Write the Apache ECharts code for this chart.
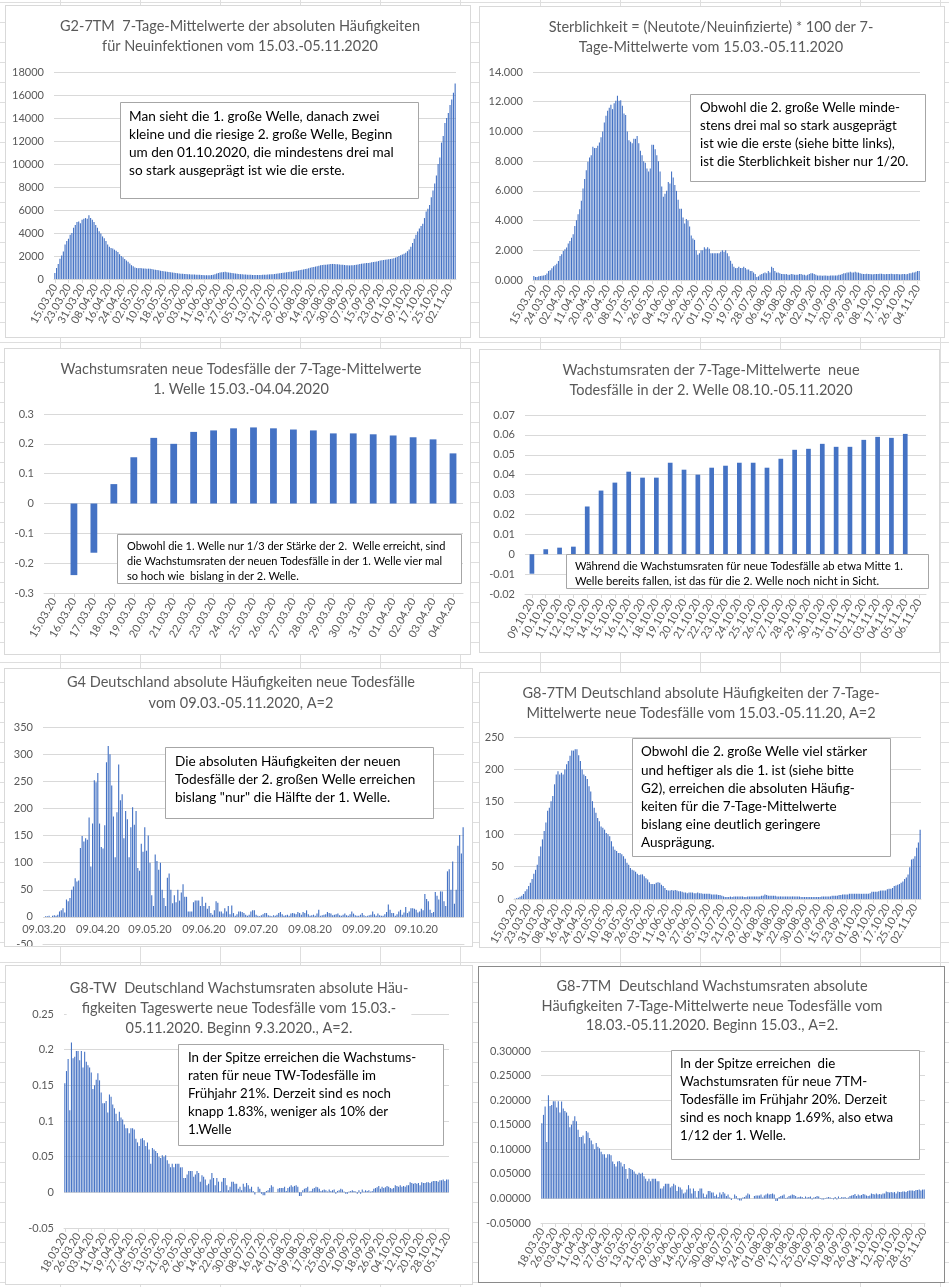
<!DOCTYPE html>
<html>
<head>
<meta charset="utf-8">
<script src="https://cdn.jsdelivr.net/npm/echarts@6/dist/echarts.min.js"></script>
<style>
html,body{margin:0;padding:0;width:949px;height:1287px;overflow:hidden;background:#fff;}
#bg{position:absolute;left:0;top:0;width:949px;height:1287px;
 background-image:linear-gradient(#dedede 1px,transparent 1px),linear-gradient(90deg,#dedede 1px,transparent 1px);
 background-size:100% 20px,80px 100%;background-position:0 2px,60px 0;}
.panel{position:absolute;background:#fff;border:1px solid #d9d9d9;box-sizing:border-box;}
</style>
</head>
<body>
<div id="bg"></div>
<div class="panel" id="p1" style="left:5px;top:5px;width:466px;height:333px;"></div>
<div class="panel" id="p2" style="left:479px;top:6px;width:466px;height:332px;"></div>
<div class="panel" id="p3" style="left:4px;top:348px;width:467px;height:307px;"></div>
<div class="panel" id="p4" style="left:479px;top:349px;width:461px;height:304px;"></div>
<div class="panel" id="p5" style="left:4px;top:668px;width:469px;height:279px;"></div>
<div class="panel" id="p6" style="left:479px;top:672px;width:462px;height:276px;"></div>
<div class="panel" id="p7" style="left:5px;top:965px;width:468px;height:320px;"></div>
<div class="panel" id="p8" style="left:478px;top:966px;width:467px;height:317px;border-color:#8a8a8a;"></div>
<script>
// ---------------- DATA ----------------
// G2-7TM: 7-day mean of new infections, 15.03.20 - 05.11.20 (236 days)
const infections7TM = [
  520, 960, 1300, 1770, 2050, 2400, 3000, 3300,
  3500, 3850, 4000, 4450, 4700, 4950, 5000, 4850,
  5150, 5250, 5300, 5250, 5550, 5300, 5150, 4950,
  4700, 4450, 4150, 3950, 3700, 3550, 3300, 3000,
  2800, 2700, 2650, 2550, 2450, 2350, 2150, 2000,
  1900, 1750, 1600, 1500, 1350, 1200, 1100, 1000,
  950, 930, 950, 940, 920, 910, 900, 900,
  890, 860, 830, 800, 780, 760, 720, 700,
  680, 660, 640, 600, 580, 560, 550, 530,
  500, 480, 460, 450, 440, 430, 420, 410,
  400, 400, 390, 380, 370, 360, 350, 340,
  330, 330, 320, 330, 350, 380, 420, 480,
  520, 560, 580, 600, 620, 590, 560, 540,
  520, 500, 480, 460, 440, 420, 410, 400,
  390, 380, 370, 360, 350, 350, 340, 340,
  340, 350, 360, 370, 380, 390, 400, 410,
  420, 440, 460, 480, 500, 520, 540, 560,
  580, 600, 620, 640, 660, 690, 720, 750,
  780, 800, 830, 860, 900, 940, 980, 1020,
  1050, 1080, 1110, 1150, 1190, 1220, 1240, 1250,
  1260, 1280, 1300, 1310, 1300, 1290, 1280, 1260,
  1240, 1230, 1220, 1200, 1190, 1180, 1190, 1200,
  1220, 1240, 1270, 1300, 1330, 1350, 1370, 1390,
  1400, 1420, 1450, 1480, 1500, 1530, 1560, 1600,
  1630, 1650, 1680, 1700, 1720, 1740, 1770, 1800,
  1860, 1920, 2000, 2060, 2140, 2200, 2290, 2420,
  2570, 2800, 3140, 3500, 3850, 4140, 4400, 4600,
  4800, 5300, 5860, 6100, 6430, 7100, 7700, 8300,
  9000, 10000, 10570, 11860, 12430, 13570, 14000, 14430,
  15140, 15600, 16200, 17000
];

// Sterblichkeit (Neutote/Neuinfizierte)*100 of 7-day means, 15.03.20 - 05.11.20
const mortality = [
  0.27, 0.20, 0.20, 0.25, 0.27, 0.28, 0.31, 0.34, 0.43, 0.60,
  0.65, 0.79, 0.92, 1.00, 1.10, 1.28, 1.62, 1.73, 1.95, 2.07,
  2.18, 2.45, 2.63, 2.85, 3.08, 3.64, 4.02, 4.43, 4.76, 5.33,
  6.16, 6.79, 7.39, 7.96, 8.25, 8.40, 8.97, 8.88, 8.88, 9.03,
  9.26, 9.60, 10.00, 10.60, 11.06, 11.40, 11.60, 11.80, 11.50, 11.90,
  12.07, 12.40, 12.07, 12.10, 11.73, 11.20, 11.10, 10.00, 9.40, 9.30,
  9.20, 9.50, 9.50, 9.70, 9.20, 8.70, 8.40, 8.00, 7.90, 7.50,
  7.30, 7.50, 9.10, 9.10, 8.80, 8.40, 8.00, 7.30, 6.30, 5.60,
  5.80, 6.00, 6.60, 6.50, 7.30, 6.90, 6.40, 6.00, 5.40, 4.80,
  4.80, 4.20, 3.80, 4.10, 4.00, 3.60, 3.00, 2.80, 2.70, 2.00,
  1.70, 1.80, 2.00, 2.00, 2.20, 2.10, 2.20, 2.10, 1.80, 1.80,
  1.80, 1.80, 1.80, 1.80, 1.90, 2.00, 1.90, 2.00, 1.80, 1.60,
  1.30, 1.10, 0.90, 0.80, 0.80, 0.90, 0.80, 0.80, 0.90, 0.80,
  0.70, 0.70, 0.60, 0.60, 0.50, 0.40, 0.20, 0.25, 0.35, 0.40,
  0.45, 0.50, 0.45, 0.60, 0.50, 0.90, 0.80, 0.60, 0.50, 0.50,
  0.45, 0.40, 0.40, 0.38, 0.40, 0.35, 0.35, 0.40, 0.38, 0.35,
  0.35, 0.35, 0.40, 0.40, 0.35, 0.35, 0.30, 0.35, 0.40, 0.45,
  0.45, 0.40, 0.35, 0.30, 0.30, 0.30, 0.28, 0.30, 0.30, 0.28,
  0.28, 0.30, 0.30, 0.30, 0.30, 0.30, 0.35, 0.35, 0.40, 0.45,
  0.45, 0.50, 0.50, 0.55, 0.50, 0.50, 0.55, 0.50, 0.50, 0.45,
  0.42, 0.40, 0.40, 0.42, 0.40, 0.40, 0.38, 0.38, 0.40, 0.40,
  0.40, 0.42, 0.42, 0.40, 0.38, 0.40, 0.40, 0.40, 0.42, 0.40,
  0.38, 0.40, 0.40, 0.38, 0.38, 0.40, 0.40, 0.38, 0.40, 0.45,
  0.45, 0.50, 0.50, 0.55, 0.60, 0.60
];

// Growth rates, 1st wave
const wave1Dates = ['15.03.20','16.03.20','17.03.20','18.03.20','19.03.20','20.03.20','21.03.20',
  '22.03.20','23.03.20','24.03.20','25.03.20','26.03.20','27.03.20','28.03.20','29.03.20',
  '30.03.20','31.03.20','01.04.20','02.04.20','03.04.20','04.04.20'];
const wave1Growth = [null, -0.24, -0.165, 0.065, 0.155, 0.22, 0.20, 0.24, 0.245, 0.252, 0.255,
  0.252, 0.248, 0.245, 0.235, 0.235, 0.232, 0.228, 0.222, 0.215, 0.168];

// Growth rates, 2nd wave
const wave2Dates = ['09.10.20','10.10.20','11.10.20','12.10.20','13.10.20','14.10.20','15.10.20',
  '16.10.20','17.10.20','18.10.20','19.10.20','20.10.20','21.10.20','22.10.20','23.10.20',
  '24.10.20','25.10.20','26.10.20','27.10.20','28.10.20','29.10.20','30.10.20','31.10.20',
  '01.11.20','02.11.20','03.11.20','04.11.20','05.11.20','06.11.20'];
const wave2Growth = [-0.0098, 0.0025, 0.0033, 0.0038, 0.024, 0.032, 0.036, 0.0415, 0.0385, 0.0385,
  0.046, 0.0425, 0.040, 0.0435, 0.0445, 0.046, 0.046, 0.0435, 0.048, 0.0525,
  0.053, 0.0555, 0.054, 0.054, 0.0575, 0.059, 0.0585, 0.0605, null];

// G4: daily new deaths, 09.03.20 - 05.11.20 (242 days)
const dailyDeaths = [
  0, 1, 1, 2, 0, 2, 3, 2, 4, 10,
  12, 16, 8, 32, 29, 35, 50, 56, 71, 65,
  67, 127, 149, 139, 145, 142, 183, 93, 172, 252,
  248, 265, 172, 129, 126, 169, 285, 315, 300, 242,
  185, 110, 193, 281, 215, 226, 145, 195, 180, 110,
  165, 202, 170, 195, 90, 85, 135, 120, 165, 122,
  150, 100, 40, 20, 115, 103, 87, 100, 50, 35,
  20, 72, 80, 50, 25, 40, 27, 50, 30, 45,
  60, 37, 37, 10, 10, 10, 27, 30, 30, 30,
  20, 37, 20, 26, 15, 20, 7, 4, 12, 29,
  26, 10, 10, 6, 16, 10, 20, 5, 21, 7,
  2, 5, 10, 10, 9, 7, 4, 2, 4, 10,
  12, 12, 4, 2, 1, 3, 5, 7, 7, 3,
  2, 1, 3, 2, 4, 7, 9, 5, 2, 3,
  4, 2, 6, 7, 6, 5, 9, 7, 4, 9,
  7, 12, 5, 2, 3, 4, 2, 6, 13, 2,
  3, 4, 5, 9, 7, 6, 3, 4, 5, 6,
  3, 2, 4, 6, 3, 2, 5, 10, 6, 3,
  2, 2, 4, 7, 3, 1, 2, 3, 4, 10,
  5, 2, 6, 3, 2, 2, 5, 9, 23, 13,
  7, 7, 2, 5, 10, 13, 4, 8, 18, 7,
  10, 16, 16, 15, 13, 8, 10, 15, 12, 42,
  33, 29, 13, 7, 9, 46, 39, 32, 47, 47,
  29, 20, 84, 88, 50, 102, 24, 50, 131, 151,
  117, 165
];
// month tick labels shown under G4
const g4TickLabels = ['09.03.20','09.04.20','09.05.20','09.06.20','09.07.20','09.08.20','09.09.20','09.10.20'];

// G8-7TM: 7-day mean of new deaths, 15.03.20 - 05.11.20 (236 days)
const deaths7TM = [
  0.5, 1, 2, 3.6, 5, 7.7, 12, 15, 20, 25,
  31, 39, 45, 53, 66, 81, 92, 105, 118, 136,
  141, 151, 159, 177, 192, 197, 192, 195, 192, 200,
  208, 213, 221, 229, 229, 231, 231, 222, 213, 200,
  192, 190, 185, 174, 166, 151, 141, 133, 125, 120,
  112, 110, 107, 102, 100, 97, 89, 81, 76, 74,
  71, 71, 69, 66, 62, 56, 53, 48, 45, 44,
  42, 39, 37, 38, 38, 35, 32, 30, 26, 23,
  23, 23, 25, 26, 25, 22, 20, 17, 14, 13,
  13, 14, 13, 14, 13, 12, 12, 11, 10, 10,
  9, 10, 10, 10, 9, 9, 10, 9, 9, 8,
  8, 8, 8, 8, 7, 7, 7, 7, 6, 6,
  5, 4, 3, 3, 3, 4, 3, 4, 4, 4,
  4, 4, 4, 3, 3, 4, 4, 4, 4, 4,
  4, 4, 4, 5, 5, 7, 6, 5, 5, 5,
  5, 5, 4, 4, 4, 4, 4, 4, 4, 4,
  4, 4, 4, 4, 4, 4, 3, 3, 3, 3,
  3, 3, 3, 3, 3, 3, 3, 3, 4, 4,
  4, 4, 4, 4, 5, 5, 5, 5, 6, 6,
  7, 7, 7, 7, 8, 8, 8, 8, 8, 8,
  8, 8, 8, 8, 8, 8, 9, 11, 11, 11,
  11, 12, 13, 13, 13, 13, 15, 16, 16, 17,
  20, 21, 22, 23, 25, 27, 31, 33, 38, 49,
  61, 62, 66, 79, 87, 107
];

// G8-TW: growth rates of daily deaths, 18.03.20 - 05.11.20 (233 days)
const growthTW = [
  0.153, 0.170, 0.187, 0.115, 0.210, 0.188, 0.190, 0.198, 0.198, 0.185,
  0.198, 0.175, 0.197, 0.183, 0.178, 0.175, 0.168, 0.145, 0.150, 0.158,
  0.167, 0.157, 0.140, 0.125, 0.125, 0.128, 0.112, 0.137, 0.134, 0.123,
  0.118, 0.110, 0.100, 0.113, 0.105, 0.102, 0.095, 0.090, 0.090, 0.083,
  0.090, 0.090, 0.088, 0.075, 0.070, 0.065, 0.075, 0.076, 0.073, 0.065,
  0.070, 0.060, 0.040, 0.062, 0.060, 0.058, 0.055, 0.050, 0.048, 0.052,
  0.050, 0.052, 0.045, 0.040, 0.035, 0.040, 0.035, 0.040, 0.040, 0.040,
  0.035, 0.035, 0.020, 0.020, 0.025, 0.030, 0.030, 0.030, 0.022, 0.025,
  0.030, 0.027, 0.015, 0.024, 0.022, 0.018, 0.010, 0.012, 0.018, 0.027,
  0.020, 0.010, 0.020, 0.015, 0.002, 0.015, 0.020, 0.020, 0.010, 0.003,
  0.008, 0.015, 0.015, 0.012, 0.012, 0.005, 0.008, 0.003, 0.012, 0.008,
  0.013, 0.010, 0.005, 0.008, 0.002, -0.003, 0.000, 0.008, 0.005, -0.002,
  -0.004, -0.004, 0.002, 0.003, 0.006, 0.010, 0.008, 0.000, 0.000, 0.005,
  0.006, 0.006, 0.006, 0.008, 0.002, 0.006, 0.008, 0.010, 0.008, 0.009,
  0.010, 0.008, -0.005, -0.005, 0.003, 0.005, 0.006, 0.008, 0.001, 0.002,
  0.005, 0.006, 0.008, 0.007, 0.005, 0.002, 0.003, 0.004, 0.003, 0.001,
  0.004, 0.002, 0.003, 0.004, -0.002, 0.002, 0.003, 0.005, 0.004, 0.001,
  -0.002, -0.002, 0.001, 0.002, 0.003, 0.002, 0.001, -0.002, 0.003, -0.002,
  0.004, 0.001, 0.003, 0.002, 0.003, 0.001, 0.002, 0.005, 0.006, 0.007,
  0.009, 0.005, 0.008, 0.006, 0.007, 0.009, 0.008, 0.006, 0.005, 0.006,
  0.010, 0.009, 0.008, 0.010, 0.008, 0.009, 0.008, 0.010, 0.010, 0.014,
  0.013, 0.012, 0.013, 0.012, 0.013, 0.010, 0.014, 0.013, 0.013, 0.014,
  0.014, 0.013, 0.015, 0.016, 0.016, 0.016, 0.015, 0.017, 0.017, 0.018,
  0.016, 0.018, 0.018
];
// G8-7TM growth rates: the bars in the picture are the same as G8-TW
const growth7TM = growthTW.slice();

// ---------------- helpers ----------------
function pad(n){return (n<10?'0':'')+n;}
function dayLabels(y,m,d,n){
  const out=[]; const t0=Date.UTC(y,m-1,d);
  for(let i=0;i<n;i++){const dt=new Date(t0+i*86400000);
    out.push(pad(dt.getUTCDate())+'.'+pad(dt.getUTCMonth()+1)+'.'+String(dt.getUTCFullYear()).slice(2));}
  return out;
}
const datesFrom1503 = dayLabels(2020,3,15,236);
const datesFrom0903 = dayLabels(2020,3,9,242);
const datesFrom1803 = dayLabels(2020,3,18,233);

const FONT='Lato, "Open Sans", sans-serif';
const BLUE='#4472C4', GRIDC='#d9d9d9', LBL='#595959';
const AXFS=11, TITLEFS=14.5;

function makeChart(c){
  const chart=echarts.init(document.getElementById(c.id),null,{renderer:'canvas'});
  const b=c.box;
  const graphic=[
    {type:'text',z:100,x:c.titleX,y:c.titleY,style:{text:c.title,fontFamily:FONT,fontSize:TITLEFS,
      fill:'#595959',align:'center',verticalAlign:'top',lineHeight:c.titleLH||20,
      backgroundColor:c.titleBg||null,padding:c.titleBg?[0,3]:0}},
    {type:'rect',z:99,shape:{x:b.x+0.5,y:b.y+0.5,width:b.w,height:b.h},style:{fill:'#fff',stroke:'#a6a6a6',lineWidth:1}},
    {type:'text',z:100,x:b.tx,y:b.ty,style:{text:b.text,fontFamily:FONT,fontSize:b.fs,fill:'#000',
      align:'left',verticalAlign:'top',lineHeight:b.lh}}
  ];
  chart.setOption({
    animation:false,
    grid:Object.assign({containLabel:false,outerBoundsMode:'none'},c.grid),
    xAxis:{type:'category',data:c.cats,
      axisLine:{onZero:false,lineStyle:{color:GRIDC}},
      axisTick:{show:c.ticks!==false,interval:c.interval,alignWithLabel:true,length:4,lineStyle:{color:GRIDC}},
      axisLabel:{interval:c.interval,rotate:c.rotate||0,color:LBL,fontFamily:FONT,fontSize:AXFS,
        margin:c.xMargin||6,hideOverlap:false,formatter:c.xFmt}},
    yAxis:{type:'value',min:c.yMin,max:c.yMax,interval:c.yInt,
      axisLine:{show:false},axisTick:{show:false},
      axisLabel:{color:LBL,fontFamily:FONT,fontSize:AXFS,margin:10,formatter:c.yFmt},
      splitLine:{show:true,lineStyle:{color:GRIDC,width:1}}},
    series:[{type:'bar',data:c.data,itemStyle:{color:BLUE},barCategoryGap:c.gap||'35%',
      silent:true,large:false}],
    graphic:graphic
  });
}
const fmtNum=v=>String(+v.toFixed(4));

makeChart({id:'p1',
  title:'G2-7TM  7-Tage-Mittelwerte der absoluten Häufigkeiten\nfür Neuinfektionen vom 15.03.-05.11.2020',
  titleX:234,titleY:10,
  grid:{left:48,top:66,width:402,height:207},
  cats:datesFrom1503,data:infections7TM,interval:7,rotate:60,
  yMin:0,yMax:18000,yInt:2000,yFmt:v=>String(v),
  box:{x:114,y:96,w:298,h:96,tx:123,ty:102,fs:13.6,lh:18,
    text:'Man sieht die 1. große Welle, danach zwei\nkleine und die riesige 2. große Welle, Beginn\num den 01.10.2020, die mindestens drei mal\nso stark ausgeprägt ist wie die erste.'}});

makeChart({id:'p2',
  title:'Sterblichkeit = (Neutote/Neuinfizierte) * 100 der 7-\nTage-Mittelwerte vom 15.03.-05.11.2020',
  titleX:231,titleY:10,
  grid:{left:53,top:65,width:387,height:208},
  cats:datesFrom1503,data:mortality,interval:8,rotate:60,
  yMin:0,yMax:14,yInt:2,yFmt:v=>v.toFixed(3),
  box:{x:210,y:87,w:235,h:87,tx:220,ty:92,fs:13.3,lh:18,
    text:'Obwohl die 2. große Welle minde-\nstens drei mal so stark ausgeprägt\nist wie die erste (siehe bitte links),\nist die Sterblichkeit bisher nur 1/20.'}});

makeChart({id:'p3',
  title:'Wachstumsraten neue Todesfälle der 7-Tage-Mittelwerte\n1. Welle 15.03.-04.04.2020',
  titleX:236,titleY:10,
  grid:{left:39,top:65,width:419,height:179},
  cats:wave1Dates,data:wave1Growth,interval:0,rotate:60,gap:'66%',
  yMin:-0.3,yMax:0.3,yInt:0.1,yFmt:fmtNum,
  box:{x:112,y:185,w:344,h:49,tx:122,ty:189.5,fs:11,lh:15,
    text:'Obwohl die 1. Welle nur 1/3 der Stärke der 2.  Welle erreicht, sind\ndie Wachstumsraten der neuen Todesfälle in der 1. Welle vier mal\nso hoch wie  bislang in der 2. Welle.'}});

makeChart({id:'p4',
  title:'Wachstumsraten der 7-Tage-Mittelwerte  neue\nTodesfälle in der 2. Welle 08.10.-05.11.2020',
  titleX:231,titleY:10,
  grid:{left:45,top:65,width:401,height:179},
  cats:wave2Dates,data:wave2Growth,interval:0,rotate:60,gap:'66%',
  yMin:-0.02,yMax:0.07,yInt:0.01,yFmt:fmtNum,
  box:{x:86,y:204,w:362,h:34,tx:95,ty:208.5,fs:11.2,lh:15,
    text:'Während die Wachstumsraten für neue Todesfälle ab etwa Mitte 1.\nWelle bereits fallen, ist das für die 2. Welle noch nicht in Sicht.'}});

makeChart({id:'p5',
  title:'G4 Deutschland absolute Häufigkeiten neue Todesfälle\nvom 09.03.-05.11.2020, A=2',
  titleX:236,titleY:3,titleLH:21,
  grid:{left:38,top:58,width:421,height:217},
  cats:datesFrom0903,data:dailyDeaths,interval:0,rotate:0,ticks:false,xMargin:-20,
  xFmt:v=>(g4TickLabels.indexOf(v)>=0?v:''),
  yMin:-50,yMax:350,yInt:50,yFmt:v=>String(v),
  box:{x:160,y:78,w:268,h:71,tx:170,ty:83,fs:13.6,lh:18.3,
    text:'Die absoluten Häufigkeiten der neuen\nTodesfälle der 2. großen Welle erreichen\nbislang "nur" die Hälfte der 1. Welle.'}});

makeChart({id:'p6',
  title:'G8-7TM Deutschland absolute Häufigkeiten der 7-Tage-\nMittelwerte neue Todesfälle vom 15.03.-05.11.20, A=2',
  titleX:221,titleY:11,titleLH:19.5,
  grid:{left:34,top:64,width:407,height:162},
  cats:datesFrom1503,data:deaths7TM,interval:7,rotate:60,
  yMin:0,yMax:250,yInt:50,yFmt:v=>String(v),
  box:{x:152,y:65,w:258,h:118,tx:161,ty:70,fs:13.5,lh:18.2,
    text:'Obwohl die 2. große Welle viel stärker\nund heftiger als die 1. ist (siehe bitte\nG2), erreichen die absoluten Häufig-\nkeiten für die 7-Tage-Mittelwerte\nbislang eine deutlich geringere\nAusprägung.'}});

makeChart({id:'p7',
  title:'G8-TW  Deutschland Wachstumsraten absolute Häu-\nfigkeiten Tageswerte neue Todesfälle vom 15.03.-\n05.11.2020. Beginn 9.3.2020., A=2.',
  titleX:233,titleY:12,titleBg:'#ffffff',
  grid:{left:58,top:48,width:385,height:214},
  cats:datesFrom1803,data:growthTW,interval:7,rotate:60,
  yMin:-0.05,yMax:0.25,yInt:0.05,yFmt:fmtNum,
  box:{x:172,y:78,w:265,h:101,tx:182,ty:83,fs:13.3,lh:18,
    text:'In der Spitze erreichen die Wachstums-\nraten für neue TW-Todesfälle im\nFrühjahr 21%. Derzeit sind es noch\nknapp 1.83%, weniger als 10% der\n1.Welle'}});

makeChart({id:'p8',
  title:'G8-7TM  Deutschland Wachstumsraten absolute\nHäufigkeiten 7-Tage-Mittelwerte neue Todesfälle vom\n18.03.-05.11.2020. Beginn 15.03., A=2.',
  titleX:233,titleY:10,titleLH:19.5,
  grid:{left:62,top:84,width:384,height:172},
  cats:datesFrom1803,data:growth7TM,interval:7,rotate:60,
  yMin:-0.05,yMax:0.30,yInt:0.05,yFmt:v=>v.toFixed(5),
  box:{x:192,y:83,w:248,h:109,tx:201,ty:88,fs:13.3,lh:18,
    text:'In der Spitze erreichen  die\nWachstumsraten für neue 7TM-\nTodesfälle im Frühjahr 20%. Derzeit\nsind es noch knapp 1.69%, also etwa\n1/12 der 1. Welle.'}});
</script>
</body>
</html>
